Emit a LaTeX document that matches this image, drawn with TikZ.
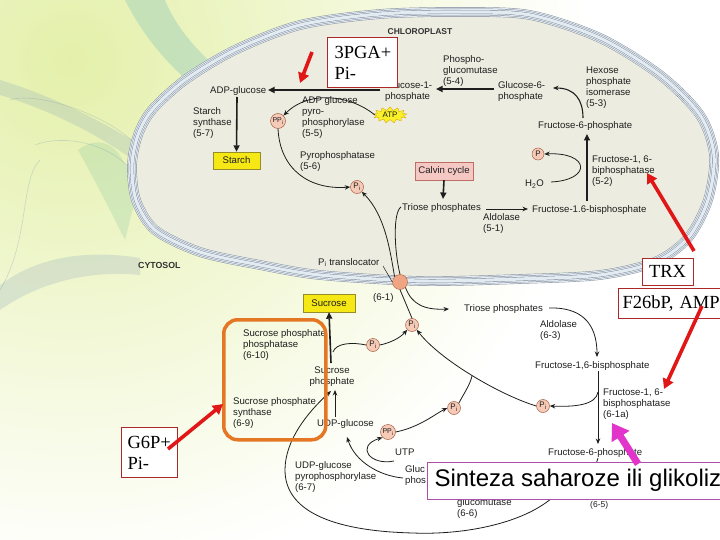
\documentclass[tikz,border=0pt]{standalone}
\usepackage{fontspec}
\setmainfont{Liberation Sans}
\newfontfamily\serifa{Liberation Serif}
\usetikzlibrary{arrows.meta,shapes.symbols}
\newcommand\lblf{\fontsize{9.6}{11}\selectfont}
\definecolor{txt}{RGB}{30,30,30}
\definecolor{pdraw}{RGB}{170,95,70}
\definecolor{pfill}{RGB}{245,202,182}
\definecolor{tlfill}{RGB}{240,165,130}
\definecolor{chlfill}{RGB}{236,237,224}
\definecolor{bandD}{RGB}{125,135,148}
\definecolor{bandL}{RGB}{226,234,242}
\definecolor{redA}{RGB}{225,22,22}
\definecolor{redB}{RGB}{170,40,40}
\definecolor{magA}{RGB}{226,52,202}
\definecolor{magB}{RGB}{170,80,170}
\definecolor{orngA}{RGB}{228,118,36}
\definecolor{starY}{RGB}{246,232,20}
\definecolor{starD}{RGB}{150,140,40}
\definecolor{calF}{RGB}{245,200,195}
\definecolor{calD}{RGB}{190,110,100}
\definecolor{atpY}{RGB}{250,240,40}
\definecolor{atpO}{RGB}{220,170,20}
\definecolor{bgY}{RGB}{228,240,170}
\definecolor{bgT}{RGB}{90,175,185}
\definecolor{bgB}{RGB}{120,150,185}
\definecolor{bgG}{RGB}{110,185,150}
\begin{document}
\begin{tikzpicture}[x=1pt,y=-1pt,
 lbl/.style={font=\lblf, align=left, inner sep=0pt, text=txt},
 pcirc/.style={circle, draw=pdraw, fill=pfill, line width=0.5pt, inner sep=0pt, minimum size=13pt, font=\fontsize{8}{8}\selectfont, text=txt},
 thk/.style={line width=1.6pt, draw=txt, -{Triangle[length=6.5pt,width=6pt]}},
 thn/.style={line width=0.8pt, draw=txt, -{Stealth[length=5.5pt,width=4.5pt]}},
 thnl/.style={line width=0.8pt, draw=txt},
 redarr/.style={line width=3.6pt, draw=redA, -{Triangle[length=10pt,width=11pt]}},
 annbox/.style={draw=redB, line width=1pt, fill=white, font=\serifa\fontsize{18.5}{21}\selectfont, text=black},
 ybox/.style={draw=starD, fill=starY, line width=0.4pt, inner sep=0pt, font=\lblf, text=txt},
]
\useasboundingbox (0,0) rectangle (720,540);
\clip (0,0) rectangle (720,540);
% background
\fill[white] (0,0) rectangle (720,540);
\shade[inner color=bgY, outer color=white] (70,60) circle (520);
\fill[bgT, opacity=0.25] (125,0) .. controls (140,30) and (165,65) .. (205,95) -- (225,75) .. controls (195,50) and (175,25) .. (165,0) -- cycle;
\fill[bgB, opacity=0.2] (0,95) .. controls (50,110) and (100,135) .. (140,165) -- (140,145) .. controls (100,120) and (50,95) .. (0,80) -- cycle;
\fill[bgG, opacity=0.2] (78,150) .. controls (105,130) and (128,150) .. (135,200) -- (125,240) .. controls (105,200) and (92,175) .. cycle;
\fill[bgB, opacity=0.2] (0,285) .. controls (40,255) and (90,250) .. (140,258) -- (140,275) .. controls (90,270) and (40,282) .. (0,310) -- cycle;
\draw[bgB, opacity=0.3, line width=0.6pt] (10,100) .. controls (40,90) and (120,120) .. (140,150);
\draw[bgB, opacity=0.3, line width=0.6pt] (35,145) .. controls (60,135) and (110,140) .. (135,175);
\draw[bgB, opacity=0.3, line width=0.6pt] (0,290) .. controls (30,240) and (20,180) .. (40,160);
% chloroplast
\fill[chlfill] plot[smooth cycle] coordinates {(460,12) (530,15) (600,38) (660,75) (700,115) (714,155) (708,200) (688,238) (655,262) (600,275) (520,279) (420,281) (320,275) (260,265) (200,252) (155,230) (136,200) (132,165) (138,135) (152,110) (185,80) (235,50) (300,25) (380,14)};
\foreach \w/\c in {9.6/bandD, 8.8/bandL, 6.8/bandD, 6.0/bandL, 4.0/bandD, 3.2/bandL}{
 \draw[line width=\w pt, draw=\c] plot[smooth cycle] coordinates {(460,12) (530,15) (600,38) (660,75) (700,115) (714,155) (708,200) (688,238) (655,262) (600,275) (520,279) (420,281) (320,275) (260,265) (200,252) (155,230) (136,200) (132,165) (138,135) (152,110) (185,80) (235,50) (300,25) (380,14)};
}
% chloroplast labels
\node[font=\bfseries\fontsize{8.5}{9}\selectfont, text=black!80, anchor=base, inner sep=0pt] (chl) at (420,35) {CHLOROPLAST};
\node[lbl, anchor=base west] (adpg) at (210,94) {ADP-glucose};
\node[lbl, anchor=north west] (g1p) at (385,81.8) {Glucose-1-\\phosphate};
\node[lbl, anchor=north west] (pgm) at (443,55.8) {Phospho-\\glucomutase\\(5-4)};
\node[lbl, anchor=north west] (g6p) at (498,81.8) {Glucose-6-\\phosphate};
\node[lbl, anchor=north west] (hpi) at (586,66.8) {Hexose\\phosphate\\isomerase\\(5-3)};
\node[lbl, anchor=base west] (f6p) at (538,129) {Fructose-6-phosphate};
\node[lbl, anchor=north west] (ss) at (193,107.8) {Starch\\synthase\\(5-7)};
\node[lbl, anchor=north west] (adpp) at (302,96.8) {ADP glucose\\pyro-\\phosphorylase\\(5-5)};
\node[lbl, anchor=north west] (pyro) at (300,151.8) {Pyrophosphatase\\(5-6)};
\node[lbl, anchor=north west] (fbpase) at (592,155.8) {Fructose-1, 6-\\biphosphatase\\(5-2)};
\node[lbl, anchor=base west] (h2o) at (525,187) {H\textsubscript{2}O};
\node[lbl, anchor=base west] (tp1) at (402,211) {Triose phosphates};
\node[lbl, anchor=north west] (ald1) at (483,213.8) {Aldolase\\(5-1)};
\node[lbl, anchor=base west] (fbp1) at (532,213) {Fructose-1.6-bisphosphate};
\node[lbl, anchor=base west] (pitl) at (318,265) {P\textsubscript{i} translocator};
\node[font=\bfseries\fontsize{8.8}{9}\selectfont, text=black!80, anchor=base west, inner sep=0pt] (cyto) at (138,268) {CYTOSOL};
\node[ybox, minimum width=47pt, minimum height=17pt] (starch) at (236.5,160.5) {Starch};
\node[draw=calD, fill=calF, line width=0.5pt, minimum width=58pt, minimum height=18pt, inner sep=0pt, font=\lblf, text=txt] (calvin) at (444,171) {Calvin cycle};
\node[starburst, starburst points=13, starburst point height=3.5pt, random starburst=0, fill=atpY, draw=atpO, line width=0.4pt, inner sep=0.5pt, minimum width=34pt, minimum height=14pt, font=\fontsize{8}{8}\selectfont, text=txt] (atp) at (390,115) {ATP};
% cytosol labels
\node[lbl, anchor=base west] (e61) at (373,300) {(6-1)};
\node[lbl, anchor=base west] (tp2) at (464,311) {Triose phosphates};
\node[lbl, anchor=north west] (ald2) at (540,320.8) {Aldolase\\(6-3)};
\node[lbl, anchor=base west] (fbp2) at (535,368) {Fructose-1,6-bisphosphate};
\node[lbl, anchor=north west] (fbpase2) at (603,388.8) {Fructose-1, 6-\\bisphosphatase\\(6-1a)};
\node[lbl, anchor=north west] (spp) at (243,329.8) {Sucrose phosphate\\phosphatase\\(6-10)};
\node[lbl, anchor=north, align=center] (sucp) at (332,366.8) {Sucrose\\phosphate};
\node[lbl, anchor=north west] (sps) at (233,397.8) {Sucrose phosphate\\synthase\\(6-9)};
\node[lbl, anchor=base west] (udpg) at (317,426) {UDP-glucose};
\node[lbl, anchor=base west] (utp) at (395,455) {UTP};
\node[lbl, anchor=north west] (ugp) at (295,461.8) {UDP-glucose\\pyrophosphorylase\\(6-7)};
\node[lbl, anchor=north west] (g1p2) at (405,465.8) {Gluc\\phos};
\node[lbl, anchor=north west] (pgm2) at (457,498.8) {glucomutase\\(6-6)};
\node[lbl, anchor=base west] (f6p2) at (548,455) {Fructose-6-phosphate};
\node[lbl, anchor=base west, font=\fontsize{8.5}{9}\selectfont] (e65) at (590,507) {(6-5)};
\node[ybox, minimum width=52pt, minimum height=18pt] (sucrose) at (329,303) {Sucrose};
% phosphate circles
\node[pcirc, minimum size=15pt, font=\fontsize{7}{7}\selectfont] (ppi1) at (278,121) {PP\textsubscript{i}};
\node[pcirc] (pi1) at (357,187) {P\textsubscript{i}};
\node[pcirc, minimum size=12pt] (p1) at (538,154) {P};
\node[pcirc] (pi2) at (412,325) {P\textsubscript{i}};
\node[pcirc] (pi3) at (373,345) {P\textsubscript{i}};
\node[pcirc, minimum size=15pt, font=\fontsize{7}{7}\selectfont] (ppi2) at (388,432) {PP\textsubscript{i}};
\node[pcirc] (pi4) at (454,408) {P\textsubscript{i}};
\node[pcirc] (pi5) at (543,406) {P\textsubscript{i}};
\node[circle, fill=tlfill, draw=pdraw, line width=0.4pt, minimum size=15pt, inner sep=0pt] (tl) at (400,282) {};
% coordinates
\coordinate (g6pW) at (494,89);
\coordinate (g1pE) at (436,89);
\coordinate (g1pW) at (380,90);
\coordinate (adpgE) at (268,90);
\coordinate (adpgS) at (237,97);
\coordinate (f6pN) at (583,118);
\coordinate (g6pE) at (553,88);
\coordinate (fbpN) at (587,201);
\coordinate (f6pS) at (587,134);
\coordinate (h2oE) at (551,182);
\coordinate (tp1N) at (443,199);
\coordinate (tp1E) at (486,209);
\coordinate (fbp1W) at (528,209);
\coordinate (tp1W) at (401,207);
\coordinate (pitlE) at (383,266);
\coordinate (tp2W) at (449,309);
\coordinate (sucpNE) at (333,352);
\coordinate (sucpN) at (331,363);
\coordinate (udpgN) at (335,417);
\coordinate (sucpS) at (335,390);
\coordinate (loopS) at (598,458);
\coordinate (sucpSW) at (331,391);
\coordinate (merge) at (472,376);
\coordinate (tp2E) at (549,308);
\coordinate (fbp2N) at (597,357);
\coordinate (fbp2S) at (598,371);
\coordinate (f6p2N) at (598,444);
\coordinate (fbpaseL) at (598,392);
\coordinate (utpW) at (394,461);
\coordinate (g1p2W) at (403,478);
\coordinate (udpgS) at (347,437);
% chloroplast connectors
\draw[thk] (g6pW) -- (g1pE);
\draw[thk] (g1pW) -- (adpgE);
\draw[thn] (atp.west) .. controls (352,96) and (310,89) .. (ppi1.north east);
\draw[thk] (adpgS) -- (starch.north);
\draw[thn, line width=1.1pt] (f6pN) .. controls (583,100) and (575,88) .. (g6pE);
\draw[thk] (fbpN) -- (f6pS);
\draw[thn] (h2oE) .. controls (592,180) and (590,152) .. (p1.east);
\draw[thk] (calvin.south) -- (tp1N);
\draw[thn] (tp1E) -- (fbp1W);
\draw[thn] (ppi1.south) .. controls (280,170) and (310,190) .. (pi1.west);
\draw[thnl] (tp1W) .. controls (393,212) and (394,250) .. (tl.north);
\draw[thn] (tl.north west) .. controls (390,250) and (385,215) .. (pi1.south east);
\draw[line width=0.5pt, draw=txt] (pitlE) -- (tl.west);
% cytosol connectors
\draw[thn] (tl.south east) .. controls (412,305) and (425,310) .. (tp2W);
\draw[thnl] (tl.south) -- (pi2.north);
\draw[thnl] (sucpNE) .. controls (336,343) and (352,342) .. (pi3.west);
\draw[thn] (pi3.east) .. controls (390,343) and (400,338) .. (pi2.south west);
\draw[thk] (sucpN) -- (sucrose.south);
\draw[thn] (udpgN) -- (sucpS);
\draw[thn] (loopS) .. controls (590,485) and (575,492) .. (552,498) .. controls (520,525) and (460,535) .. (413,533) .. controls (330,531) and (285,510) .. (285,470) .. controls (285,440) and (308,412) .. (sucpSW);
\draw[thn] (ppi2.east) .. controls (420,427) and (435,414) .. (pi4.west);
\draw[thnl] (pi4.north east) .. controls (463,395) and (470,385) .. (merge);
\draw[thn] (pi5.west) .. controls (500,395) and (440,360) .. (pi2.south east);
\draw[thn] (tp2E) .. controls (580,307) and (597,322) .. (fbp2N);
\draw[thn] (fbp2S) -- (f6p2N);
\draw[thn] (fbpaseL) .. controls (596,405) and (575,407) .. (pi5.east);
\draw[thn] (utpW) .. controls (370,466) and (355,446) .. (ppi2.south west);
\draw[thn] (g1p2W) .. controls (380,476) and (355,462) .. (udpgS);
% orange box
\node[draw=orngA, line width=3.5pt, rounded corners=14pt, minimum width=102pt, minimum height=120pt, anchor=north west, inner sep=0pt] (orbox) at (222,318) {};
% annotation boxes
\node[annbox, anchor=north west, minimum width=70pt, minimum height=50pt, text width=56pt, inner xsep=7pt, inner ysep=3pt, align=left] (pga) at (327,37) {3PGA+\\Pi-};
\node[annbox, minimum width=51pt, minimum height=27pt, inner sep=0pt] (trx) at (667.5,271.5) {TRX};
\node[annbox, anchor=north west, minimum height=30pt, text width=104pt, inner xsep=4pt, inner ysep=0pt, align=left] (f26) at (618,288) {F26bP, AMP};
\node[annbox, anchor=north west, minimum width=56pt, minimum height=50pt, text width=44pt, inner xsep=6pt, inner ysep=3pt, align=left] (g6pbox) at (121,427) {G6P+\\Pi-};
\node[draw=magB, line width=1pt, fill=white, anchor=west, minimum height=37pt, inner xsep=7pt, inner ysep=0pt, font=\fontsize{24}{26}\selectfont, text=black] (sint) at (427,480.5) {Sinteza saharoze ili glikoliza};
% red arrows
\coordinate (ra1s) at (312,52);
\coordinate (ra1e) at (300,83);
\coordinate (ra2s) at (694,251);
\coordinate (ra2e) at (647,173);
\coordinate (ra3s) at (702,306);
\coordinate (ra3e) at (664,389);
\coordinate (ra4s) at (168,449);
\coordinate (ra4e) at (223,404);
\draw[redarr] (ra1s) -- (ra1e);
\draw[redarr] (ra2s) -- (ra2e);
\draw[redarr] (ra3s) -- (ra3e);
\draw[redarr] (ra4s) -- (ra4e);
\coordinate (mgs) at (638,464);
\coordinate (mge) at (612,423);
\draw[line width=7pt, draw=magA, -{Triangle[length=16pt,width=20pt]}] (mgs) -- (mge);
\end{tikzpicture}
\end{document}
